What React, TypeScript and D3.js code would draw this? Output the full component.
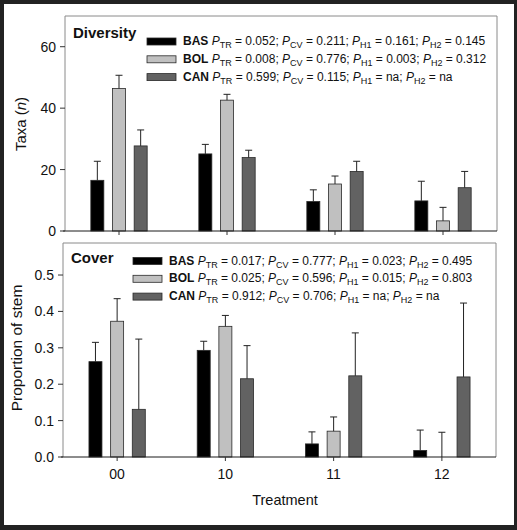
import React from "react";
import * as d3 from "d3";

const categories = ["00", "10", "11", "12"];
const series = ["BAS", "BOL", "CAN"];

const diversityBAS = [16.5, 25.1, 9.6, 9.8];
const diversityBOL = [46.4, 42.6, 15.3, 3.3];
const diversityCAN = [27.7, 23.9, 19.4, 14.1];
const diversityErrBAS = [6.2, 3.1, 3.8, 6.4];
const diversityErrBOL = [4.3, 1.9, 2.6, 4.4];
const diversityErrCAN = [5.2, 2.4, 3.3, 5.3];

const coverBAS = [0.262, 0.293, 0.036, 0.018];
const coverBOL = [0.373, 0.359, 0.071, 0.0];
const coverCAN = [0.131, 0.215, 0.223, 0.22];
const coverErrBAS = [0.053, 0.025, 0.033, 0.056];
const coverErrBOL = [0.062, 0.03, 0.039, 0.068];
const coverErrCAN = [0.193, 0.091, 0.118, 0.203];

const statKeys = ["TR", "CV", "H1", "H2"];
const diversityStats = [
  ["0.052", "0.211", "0.161", "0.145"],
  ["0.008", "0.776", "0.003", "0.312"],
  ["0.599", "0.115", "na", "na"],
];
const coverStats = [
  ["0.017", "0.777", "0.023", "0.495"],
  ["0.025", "0.596", "0.015", "0.803"],
  ["0.912", "0.706", "na", "na"],
];

const diversityTicks = [0, 20, 40, 60];
const coverTicks = [0, 0.1, 0.2, 0.3, 0.4, 0.5];

const colors: Record<string, string> = { BAS: "#000000", BOL: "#c0c0c0", CAN: "#626262" };
const FONT = "'Liberation Sans', Arial, Helvetica, sans-serif";

type PanelProps = {
  title: string;
  values: number[][];
  errors: number[][];
  stats: string[][];
  yMax: number;
  ticks: number[];
  fmt: (v: number) => string;
  left: number;
  right: number;
  top: number;
  bottom: number;
  legendX: number;
  legendY: number;
  titleY: number;
  showXLabels?: boolean;
};

function Panel(p: PanelProps) {
  const x = d3.scaleBand<string>().domain(categories).range([p.left, p.right]).padding(0);
  const y = d3.scaleLinear().domain([0, p.yMax]).range([p.bottom, p.top]);
  const inner = d3.scaleBand<string>().domain(series).range([-32.5, 32.5]).paddingInner(0.4).paddingOuter(0.2);
  const bw = inner.bandwidth();
  return (
    <g>
      {/* frame */}
      <path
        d={`M${p.left},${p.bottom}V${p.top}H${p.right}V${p.bottom}`}
        fill="none"
        stroke="#8a8a8a"
        strokeWidth={1}
      />
      {/* bars */}
      {series.map((s, si) =>
        categories.map((c, ci) => {
          const cx = (x(c) as number) + x.bandwidth() / 2;
          const bx = cx + (inner(s) as number);
          const v = p.values[si][ci];
          const e = p.errors[si][ci];
          const mid = bx + bw / 2;
          return (
            <g key={s + c}>
              {v > 0 && (
                <rect
                  x={bx}
                  y={y(v)}
                  width={bw}
                  height={y(0) - y(v)}
                  fill={colors[s]}
                  stroke="#2a2a2a"
                  strokeWidth={0.8}
                />
              )}
              <line x1={mid} x2={mid} y1={y(v)} y2={y(v + e)} stroke="#222" strokeWidth={1} />
              <line x1={mid - 3.5} x2={mid + 3.5} y1={y(v + e)} y2={y(v + e)} stroke="#222" strokeWidth={1} />
            </g>
          );
        })
      )}
      {/* x axis */}
      <line x1={p.left - 2} x2={p.right} y1={p.bottom} y2={p.bottom} stroke="#1a1a1a" strokeWidth={1} />
      {categories.map((c) => {
        const cx = (x(c) as number) + x.bandwidth() / 2;
        return (
          <g key={c}>
            <line x1={cx} x2={cx} y1={p.bottom} y2={p.bottom + 4} stroke="#333" />
            {p.showXLabels && (
              <text x={cx} y={p.bottom + 22} textAnchor="middle" fontSize={14} fontFamily={FONT} fill="#111">
                {c}
              </text>
            )}
          </g>
        );
      })}
      {/* y ticks */}
      {p.ticks.map((t) => (
        <g key={t}>
          <line x1={p.left - 5} x2={p.left} y1={y(t)} y2={y(t)} stroke="#333" />
          <text
            x={p.left - 9}
            y={y(t)}
            dy="0.36em"
            textAnchor="end"
            fontSize={14}
            fontFamily={FONT}
            fill="#111"
          >
            {p.fmt(t)}
          </text>
        </g>
      ))}
      {/* title */}
      <text x={p.left + 8} y={p.titleY} fontSize={15} fontWeight="bold" fontFamily={FONT} fill="#111">
        {p.title}
      </text>
      {/* legend */}
      {series.map((s, si) => {
        const by = p.legendY + si * 17.8;
        return (
          <g key={s}>
            <rect x={p.legendX} y={by - 7} width={29} height={7} fill={colors[s]} stroke="#2a2a2a" strokeWidth={0.8} />
            <text x={p.legendX + 36} y={by} fontSize={12} fontFamily={FONT} fill="#111">
              <tspan fontWeight="bold">{s}</tspan>
              {statKeys.map((k, ki) => (
                <React.Fragment key={k}>
                  <tspan fontStyle="italic">{" P"}</tspan>
                  <tspan fontSize={9} dy={3}>
                    {k}
                  </tspan>
                  <tspan dy={-3}>{` = ${p.stats[si][ki]}${ki < 3 ? ";" : ""}`}</tspan>
                </React.Fragment>
              ))}
            </text>
          </g>
        );
      })}
    </g>
  );
}

export default function App() {
  const W = 517;
  const H = 530;
  return (
    <svg width={W} height={H} style={{ position: "absolute", left: 0, top: 0 }} fontFamily={FONT}>
      <rect x={0} y={0} width={W} height={H} fill="#222222" />
      <rect x={4} y={4} width={510} height={521} fill="#ffffff" />
      <Panel
        title="Diversity"
        values={[diversityBAS, diversityBOL, diversityCAN]}
        errors={[diversityErrBAS, diversityErrBOL, diversityErrCAN]}
        stats={diversityStats}
        yMax={70}
        ticks={diversityTicks}
        fmt={(v) => d3.format("d")(v)}
        left={65}
        right={497}
        top={16}
        bottom={231}
        legendX={147}
        legendY={45}
        titleY={38}
      />
      <Panel
        title="Cover"
        values={[coverBAS, coverBOL, coverCAN]}
        errors={[coverErrBAS, coverErrBOL, coverErrCAN]}
        stats={coverStats}
        yMax={0.588}
        ticks={coverTicks}
        fmt={(v) => d3.format(".1f")(v)}
        left={63}
        right={496}
        top={243}
        bottom={457}
        legendX={133}
        legendY={264.5}
        titleY={263}
        showXLabels
      />
      <text
        transform="translate(26,124) rotate(-90)"
        textAnchor="middle"
        fontSize={15}
        fontFamily={FONT}
        fill="#111"
      >
        Taxa (<tspan fontStyle="italic">n</tspan>)
      </text>
      <text
        transform="translate(22,348) rotate(-90)"
        textAnchor="middle"
        fontSize={15.5}
        fontFamily={FONT}
        fill="#111"
      >
        Proportion of stem
      </text>
      <text x={285} y={505} textAnchor="middle" fontSize={14.5} fontFamily={FONT} fill="#111">
        Treatment
      </text>
    </svg>
  );
}
